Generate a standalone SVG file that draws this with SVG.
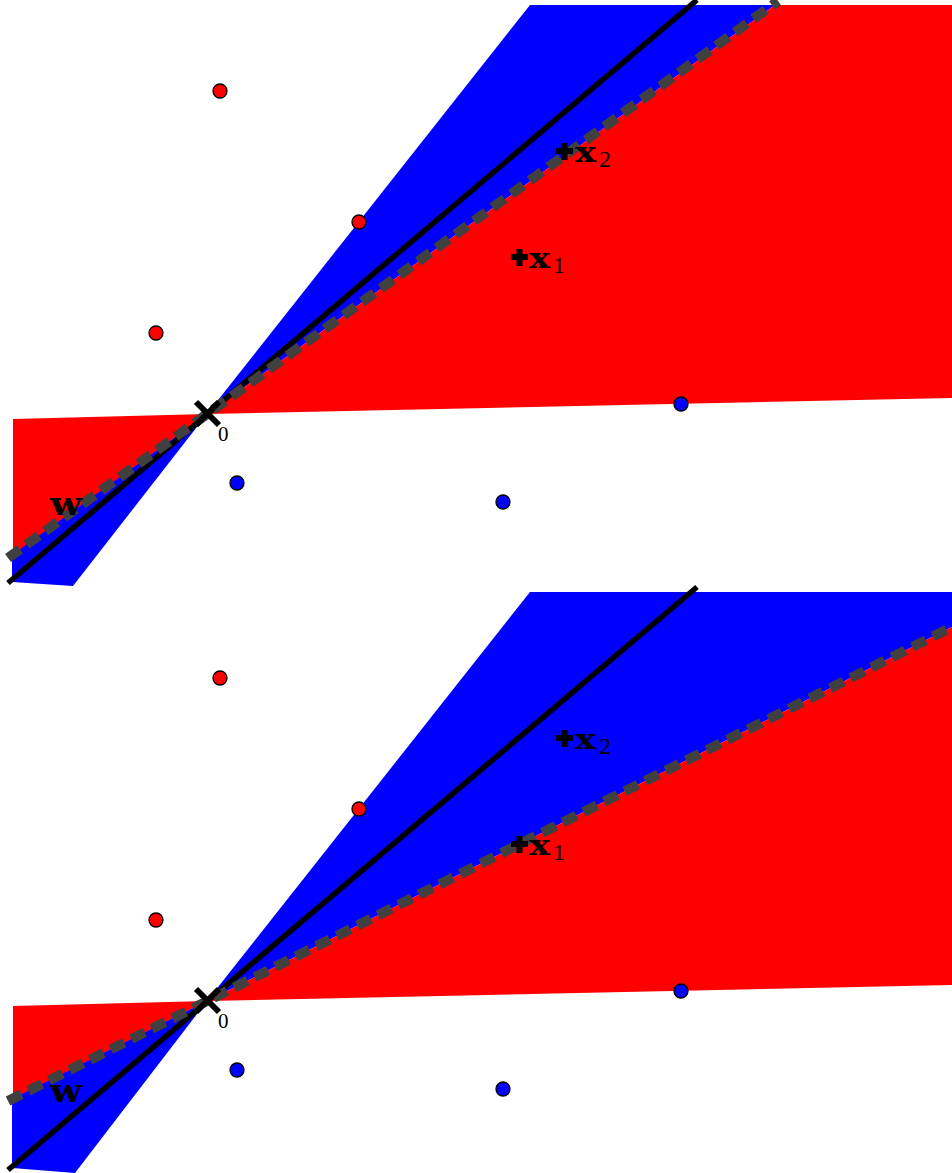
<svg xmlns="http://www.w3.org/2000/svg" width="952" height="1173" viewBox="0 0 952 1173">
<style>
.red{fill:#ff0000}
.blue{fill:#0000ff}
.wline{stroke:#000;stroke-width:5.5;fill:none}
.dash{stroke:#404040;stroke-width:10;stroke-dasharray:15 8;fill:none}
.pr{fill:#ff0000;stroke:#000;stroke-width:1.3}
.pb{fill:#0000ff;stroke:#000;stroke-width:1.3}
.mk{stroke:#000;stroke-width:6;fill:none}
.pl{stroke:#000;stroke-width:6;fill:none}
.bx{font-family:"DejaVu Serif",serif;font-weight:bold;font-size:27px;fill:#000}
.sub{font-family:"Liberation Serif",serif;font-size:24px;fill:#000}
.w{font-family:"DejaVu Serif",serif;font-weight:bold;font-size:31px;fill:#000}
.zero{font-family:"Liberation Serif",serif;font-size:21px;fill:#000}
</style>
<rect width="952" height="1173" fill="#fff"/>
<g id="panel-top">
  <g id="regions-top">
    <polygon class="blue" points="207,414 530,5 775,5"/>
    <polygon class="red" points="207,414 775,5 952,5 952,398"/>
    <polygon class="red" points="13,419 207,414 13,555"/>
    <polygon class="blue" points="207,414 12,555 12,582 73,586"/>
  </g>
  <g id="connectors-top">
    <line class="wline" x1="8" y1="583" x2="697" y2="0"/>
    <line class="dash" x1="8" y1="558" x2="778" y2="1"/>
  </g>
  <g id="points-top">
    <circle class="pr" cx="220" cy="91" r="7"/>
    <circle class="pr" cx="359" cy="222" r="7"/>
    <circle class="pr" cx="156" cy="333" r="7"/>
    <circle class="pb" cx="681" cy="404" r="7"/>
    <circle class="pb" cx="237" cy="483" r="7"/>
    <circle class="pb" cx="503" cy="502" r="7"/>
  </g>
  <g id="origin-top">
    <path class="mk" d="M196,402 L219,425 M219,402 L196,425"/>
    <text class="zero" x="218" y="441">0</text>
  </g>
  <g id="x2-top">
    <path class="pl" d="M556,151 H573 M564.5,143 V160"/>
    <text class="bx" x="575" y="162" textLength="21" lengthAdjust="spacingAndGlyphs">x</text>
    <text class="sub" x="599" y="167">2</text>
  </g>
  <g id="x1-top">
    <path class="pl" d="M511,257 H528 M519.5,249 V266"/>
    <text class="bx" x="529" y="268" textLength="21" lengthAdjust="spacingAndGlyphs">x</text>
    <text class="sub" x="553" y="273">1</text>
  </g>
  <g id="w-top">
    <text class="w" x="50" y="515" textLength="32" lengthAdjust="spacingAndGlyphs">w</text>
  </g>
</g>
<g id="panel-bottom">
  <g id="regions-bottom">
    <polygon class="blue" points="207,1001 530,592 952,592 952,627"/>
    <polygon class="red" points="207,1001 952,627 952,985"/>
    <polygon class="red" points="13,1006 207,1001 13,1099"/>
    <polygon class="blue" points="207,1001 12,1099 12,1168 75,1173"/>
  </g>
  <g id="connectors-bottom">
    <line class="wline" x1="8" y1="1170" x2="697" y2="587"/>
    <line class="dash" x1="8" y1="1101" x2="952" y2="627"/>
  </g>
  <g id="points-bottom">
    <circle class="pr" cx="220" cy="678" r="7"/>
    <circle class="pr" cx="359" cy="809" r="7"/>
    <circle class="pr" cx="156" cy="920" r="7"/>
    <circle class="pb" cx="681" cy="991" r="7"/>
    <circle class="pb" cx="237" cy="1070" r="7"/>
    <circle class="pb" cx="503" cy="1089" r="7"/>
  </g>
  <g id="origin-bottom">
    <path class="mk" d="M196,989 L219,1012 M219,989 L196,1012"/>
    <text class="zero" x="218" y="1028">0</text>
  </g>
  <g id="x2-bottom">
    <path class="pl" d="M556,738 H573 M564.5,730 V747"/>
    <text class="bx" x="575" y="749" textLength="21" lengthAdjust="spacingAndGlyphs">x</text>
    <text class="sub" x="599" y="754">2</text>
  </g>
  <g id="x1-bottom">
    <path class="pl" d="M511,844 H528 M519.5,836 V853"/>
    <text class="bx" x="529" y="855" textLength="21" lengthAdjust="spacingAndGlyphs">x</text>
    <text class="sub" x="553" y="860">1</text>
  </g>
  <g id="w-bottom">
    <text class="w" x="50" y="1102" textLength="32" lengthAdjust="spacingAndGlyphs">w</text>
  </g>
</g>
</svg>
